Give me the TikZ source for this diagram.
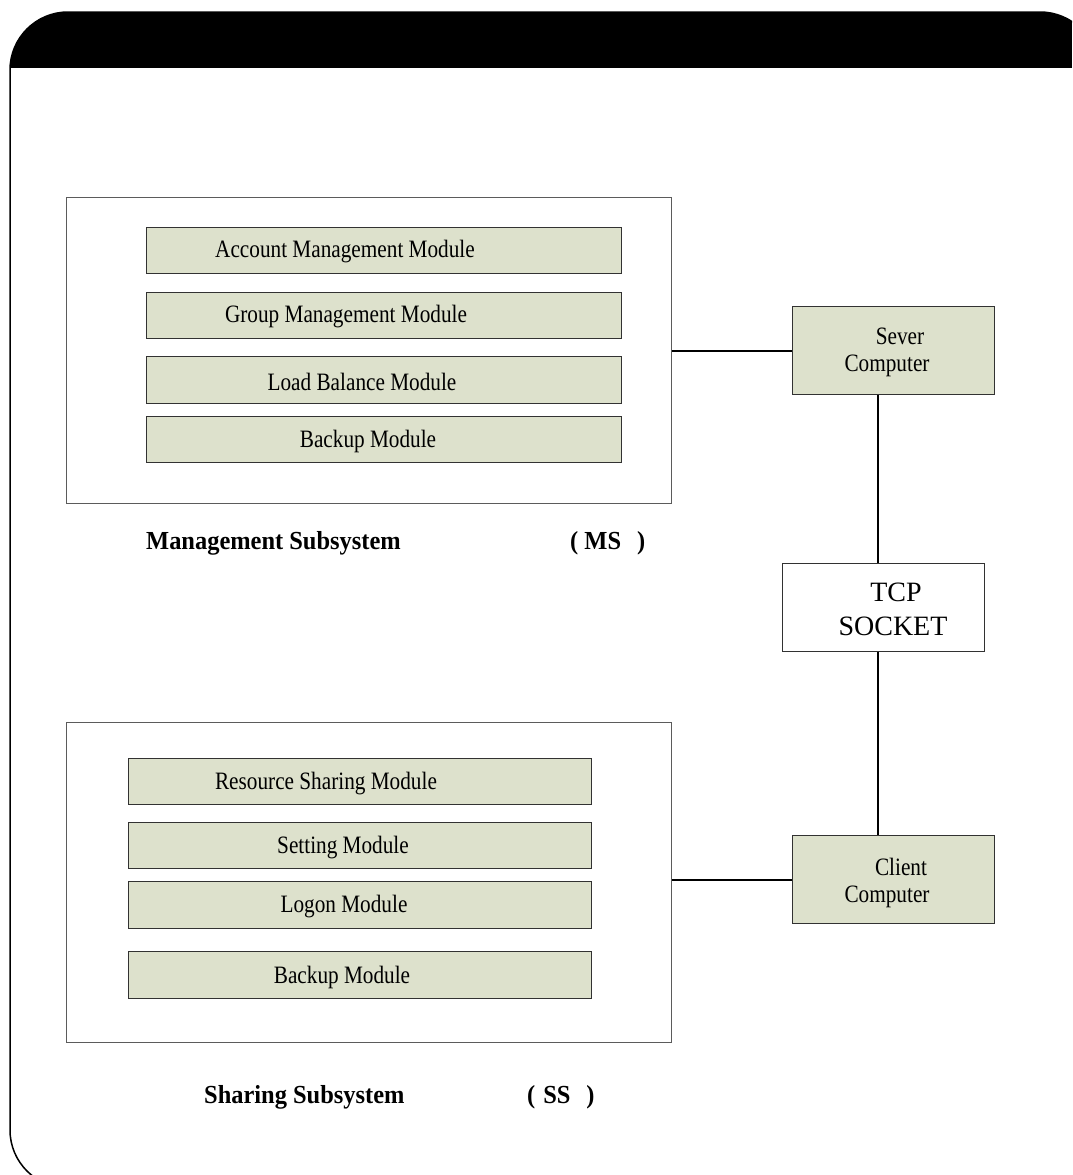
\documentclass[tikz,border=0pt]{standalone}
\usepackage{fontspec}
\setmainfont{Liberation Serif}
\newfontfamily\nfont[FakeStretch=0.85]{Liberation Serif}
\newfontfamily\bfont[FakeStretch=0.94]{Liberation Serif}
\definecolor{modfill}{RGB}{221,225,204}
\definecolor{edge}{RGB}{50,50,50}
\tikzset{
  module/.style={draw=edge, line width=1.3pt, fill=modfill, anchor=north west, inner sep=0pt},
  panel/.style={draw=edge!80, line width=1pt, fill=white, anchor=north west, inner sep=0pt},
  comp/.style={draw=edge, line width=1.3pt, fill=modfill, anchor=north west, inner sep=0pt, minimum width=202pt, minimum height=88pt},
  txt/.style={font=\nfont\fontsize{25}{27}\selectfont, inner sep=0pt, align=center},
  lbl/.style={font=\bfont\bfseries\fontsize{26}{28}\selectfont, inner sep=0pt, anchor=west},
  conn/.style={draw=black, line width=1.8pt}
}
\begin{document}
\begin{tikzpicture}[x=1pt,y=-1pt]
\useasboundingbox (0,0) rectangle (1072,1175);
\begin{scope}
\clip (0,0) rectangle (1072,1175);
\fill[white] (0,0) rectangle (1072,1175);
\begin{scope}
\clip[rounded corners=58pt] (10,12) rectangle (1098,1188);
\fill[black] (0,0) rectangle (1072,68);
\end{scope}
\draw[line width=1.5pt, rounded corners=58pt] (10,12) rectangle (1098,1188);
\end{scope}

% Management subsystem
\node[panel, minimum width=605pt, minimum height=306pt] (ms) at (66,197) {};
\node[module, minimum width=475pt, minimum height=46pt] (acc) at (146,227) {};
\node[module, minimum width=475pt, minimum height=46pt] (grp) at (146,292) {};
\node[module, minimum width=475pt, minimum height=47pt] (lbm) at (146,356) {};
\node[module, minimum width=475pt, minimum height=46pt] (bkm) at (146,416) {};
\node[txt] (acct) at (345,252) {Account Management Module};
\node[txt] (grpt) at (346,317) {Group Management Module};
\node[txt] (lbmt) at (362,382) {Load Balance Module};
\node[txt] (bkmt) at (368,441) {Backup Module};
\node[lbl] (msl) at (146,543) {Management Subsystem};
\node[lbl] (msa) at (570,543) {( MS\hspace{16pt})};

% Sharing subsystem
\node[panel, minimum width=605pt, minimum height=320pt] (ss) at (66,722) {};
\node[module, minimum width=463pt, minimum height=46pt] (res) at (128,758) {};
\node[module, minimum width=463pt, minimum height=46pt] (set) at (128,822) {};
\node[module, minimum width=463pt, minimum height=47pt] (log) at (128,881) {};
\node[module, minimum width=463pt, minimum height=47pt] (bks) at (128,951) {};
\node[txt] (rest) at (326,784) {Resource Sharing Module};
\node[txt] (sett) at (343,848) {Setting Module};
\node[txt] (logt) at (344,907) {Logon Module};
\node[txt] (bkst) at (342,977) {Backup Module};
\node[lbl] (ssl) at (204,1097) {Sharing Subsystem};
\node[lbl] (ssa) at (527,1097) {(\hspace{8pt}SS\hspace{16pt})};

% Computers
\node[comp] (sever) at (792,306) {};
\node[txt] (severt) at (890,352) {\hspace*{20pt}Sever\\Computer\hspace*{6pt}};
\node[comp] (client) at (792,835) {};
\node[txt] (clientt) at (890,883) {\hspace*{22pt}Client\\Computer\hspace*{6pt}};
\node[draw=edge, line width=1.3pt, fill=white, anchor=north west, minimum width=202pt, minimum height=88pt, inner sep=0pt] (tcp) at (782,563) {};
\node[font=\fontsize{28}{34}\selectfont, align=center, inner sep=0pt] (tcpt) at (893,609) {\hspace*{6pt}TCP\\SOCKET};

% Connectors
\draw[conn] (sever.west) -- (sever.west -| ms.east);
\draw[conn] (client.west) -- (client.west -| ss.east);
\draw[conn] ([xshift=-16pt]sever.south) -- ([xshift=-16pt]sever.south |- tcp.north);
\draw[conn] ([xshift=-6pt]tcp.south) -- ([xshift=-6pt]tcp.south |- client.north);
\end{tikzpicture}
\end{document}
